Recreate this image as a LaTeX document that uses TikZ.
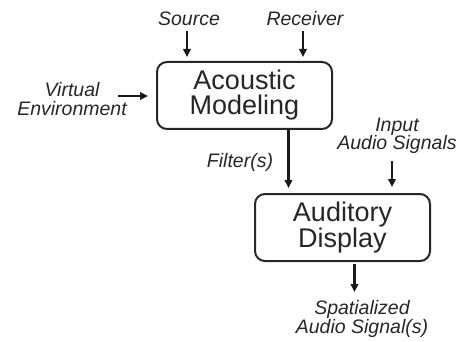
\documentclass[tikz,border=0pt]{standalone}
\usepackage{fontspec}
\setmainfont{Liberation Sans}
\usetikzlibrary{arrows.meta}
\begin{document}
\begin{tikzpicture}[x=1pt,y=-1pt,
  box/.style={draw=black!85, line width=2pt, rounded corners=10pt, minimum width=175pt, minimum height=67pt, inner sep=0pt, align=center, font=\fontsize{27}{25}\selectfont, text=black!85},
  lbl/.style={inner sep=0pt, align=center, font=\fontsize{19.5}{18.5}\selectfont\itshape, text=black!85},
  arr/.style={line width=2.1pt, draw=black!90, -{Triangle[length=8pt,width=7.5pt]}}]
\useasboundingbox (0,0) rectangle (471,342);
\node[box] (am) at (244.5,95.5) {Acoustic\\Modeling};
\node[box] (ad) at (342.5,227.5) {Auditory\\Display};
\node[lbl] (src) at (189,19) {Source};
\node[lbl] (rcv) at (305,19) {Receiver};
\node[lbl] (ve) at (72,99) {Virtual\\Environment};
\node[lbl] (flt) at (240,162) {Filter(s)};
\node[lbl] (ias) at (397,136) {Input\\Audio Signals};
\node[lbl] (sas) at (362,319) {Spatialized\\Audio Signal(s)};
\coordinate (s1) at (187,31);
\coordinate (r1) at (303,31);
\draw[arr, shorten >=4pt] (s1) -- (s1 |- am.north);
\draw[arr, shorten >=4pt] (r1) -- (r1 |- am.north);
\coordinate (v1) at (118,96);
\draw[arr, shorten >=8pt] (v1) -- (v1 -| am.west);
\coordinate (f1) at ([xshift=44pt]am.south);
\draw[arr, shorten >=5pt] (f1) -- (f1 |- ad.north);
\coordinate (i1) at (392,161);
\draw[arr, shorten >=6pt] (i1) -- (i1 |- ad.north);
\coordinate (o1) at ([xshift=12pt,yshift=-2pt]ad.south);
\coordinate (o2) at (354.5,292);
\draw[arr] (o1) -- (o2);
\end{tikzpicture}
\end{document}
